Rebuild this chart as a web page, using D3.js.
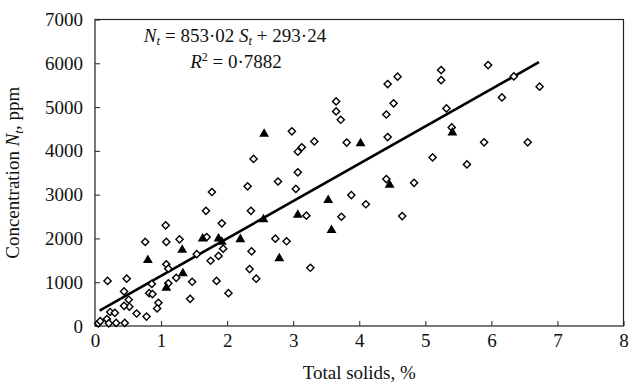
<!DOCTYPE html>
<html>
<head>
<meta charset="utf-8">
<script src="https://cdn.jsdelivr.net/npm/d3@7"></script>
<style>
  body { margin: 0; background: #fff; }
  svg text { font-family: "Liberation Serif", "Times New Roman", "DejaVu Serif", serif !important; fill: #111; }
</style>
</head>
<body>
<div id="chart"></div>
<script>
// total solids (%) and nitrogen (ppm), open diamonds
const solidsA = [0.05, 0.08, 0.18, 0.21, 0.23, 0.30, 0.32, 0.45, 0.19, 0.48, 0.44, 0.51, 0.52, 0.44, 0.63, 0.78,
  0.76, 0.86, 0.82, 0.87, 0.96, 0.94, 1.07, 1.08, 1.08, 1.11, 1.11, 1.23, 1.28, 1.44, 1.47, 1.54, 1.68, 1.69,
  1.77, 1.75, 1.84, 1.87, 1.92, 1.94, 2.02, 2.31, 2.34, 2.37, 2.36, 2.40, 2.44, 2.77, 2.73, 2.90, 2.98, 3.04,
  3.07, 3.07, 3.13, 3.20, 3.26, 3.32, 3.65, 3.65, 3.72, 3.73, 3.81, 3.88, 4.10, 4.41, 4.43, 4.41, 4.43, 4.52,
  4.58, 4.65, 4.83, 5.11, 5.24, 5.24, 5.32, 5.40, 5.63, 5.89, 5.95, 6.16, 6.34, 6.55, 6.73];
const nitrogenA = [60, 110, 160, 60, 320, 300, 70, 70, 1030, 1080, 790, 600, 440, 460, 285, 215,
  1920, 960, 750, 730, 530, 400, 2300, 1920, 1410, 1310, 975, 1100, 1980, 620, 1010, 1640, 2630, 2030,
  3060, 1490, 1030, 1600, 2345, 1765, 750, 3190, 1300, 1705, 2630, 3815, 1080, 3300, 1995, 1935, 4445, 3130,
  3510, 3980, 4080, 2520, 1330, 4215, 5130, 4900, 4710, 2495, 4190, 2990, 2780, 3355, 5525, 4830, 4315, 5085,
  5695, 2510, 3270, 3850, 5845, 5615, 4970, 4535, 3690, 4195, 5960, 5220, 5700, 4195, 5465];

// filled triangles
const solidsB = [0.80, 1.08, 1.32, 1.33, 1.63, 1.87, 1.92, 2.20, 2.56, 2.55, 2.79, 3.07, 3.53, 3.58, 4.02, 4.46, 5.41];
const nitrogenB = [1505, 870, 1735, 1200, 1995, 1995, 1920, 1980, 4385, 2435, 1545, 2535, 2875, 2190, 4170, 3220, 4415];

// regression N = 853.02 S + 293.24
const slope = 853.02;
const intercept = 293.24;
const fitRange = [0.07, 6.72];

const xTicks = [0, 1, 2, 3, 4, 5, 6, 7, 8];
const yTicks = [0, 1000, 2000, 3000, 4000, 5000, 6000, 7000];

const W = 630, H = 384;
const margin = { top: 19.5, right: 6.5, bottom: 58, left: 95 };
const iw = W - margin.left - margin.right;
const ih = H - margin.top - margin.bottom;
const serif = "'Liberation Serif', 'Times New Roman', 'DejaVu Serif', serif";

const svg = d3.select("#chart").append("svg")
  .attr("width", W)
  .attr("height", H)
  .attr("font-family", serif);

const g = svg.append("g")
  .attr("transform", `translate(${margin.left},${margin.top})`);

const x = d3.scaleLinear().domain([0, 8]).range([0, iw]);
const y = d3.scaleLinear().domain([0, 7000]).range([ih, 0]);

// axes, ticks pointing inward
const xAxis = g.append("g")
  .attr("transform", `translate(0,${ih})`)
  .call(d3.axisBottom(x).tickValues(xTicks).tickSize(-5).tickPadding(8).tickFormat(d3.format("d")));
const yAxis = g.append("g")
  .call(d3.axisLeft(y).tickValues(yTicks).tickSize(-5).tickPadding(12).tickFormat(d3.format("d")));

[xAxis, yAxis].forEach(a => {
  a.attr("font-family", serif);
  a.select(".domain").remove();
  a.selectAll(".tick line").attr("stroke", "#222");
  a.selectAll(".tick text").style("font-size", "19px").style("font-family", serif).attr("fill", "#111");
});

// frame
g.append("rect")
  .attr("width", iw)
  .attr("height", ih)
  .attr("fill", "none")
  .attr("stroke", "#222")
  .attr("stroke-width", 1.2);

// regression line
g.append("line")
  .attr("x1", x(fitRange[0]))
  .attr("y1", y(slope * fitRange[0] + intercept))
  .attr("x2", x(fitRange[1]))
  .attr("y2", y(slope * fitRange[1] + intercept))
  .attr("stroke", "#000")
  .attr("stroke-width", 2.6);

// diamonds
const diamond = d3.symbol().type(d3.symbolSquare).size(26);
g.append("g").selectAll("path")
  .data(solidsA.map((s, i) => ({ s, n: nitrogenA[i] })))
  .join("path")
  .attr("d", diamond)
  .attr("transform", d => `translate(${x(d.s)},${y(d.n)}) rotate(45)`)
  .attr("fill", "#fff")
  .attr("stroke", "#000")
  .attr("stroke-width", 1.4);

// triangles
const tri = d3.symbol().type(d3.symbolTriangle).size(42);
g.append("g").selectAll("path")
  .data(solidsB.map((s, i) => ({ s, n: nitrogenB[i] })))
  .join("path")
  .attr("d", tri)
  .attr("transform", d => `translate(${x(d.s)},${y(d.n)})`)
  .attr("fill", "#000");

// equation
const eq1 = svg.append("text")
  .attr("x", 235)
  .attr("y", 42)
  .attr("text-anchor", "middle")
  .style("font-size", "19px");
eq1.append("tspan").style("font-style", "italic").text("N");
eq1.append("tspan").style("font-style", "italic").style("font-size", "13px").attr("dy", 3).text("t");
eq1.append("tspan").attr("dy", -3).text(" = 853·02 ");
eq1.append("tspan").style("font-style", "italic").text("S");
eq1.append("tspan").style("font-style", "italic").style("font-size", "13px").attr("dy", 3).text("t");
eq1.append("tspan").attr("dy", -3).text(" + 293·24");

const eq2 = svg.append("text")
  .attr("x", 236)
  .attr("y", 68)
  .attr("text-anchor", "middle")
  .style("font-size", "19px");
eq2.append("tspan").style("font-style", "italic").text("R");
eq2.append("tspan").style("font-size", "12px").attr("dy", -7).text("2");
eq2.append("tspan").attr("dy", 7).text(" = 0·7882");

// axis titles
svg.append("text")
  .attr("x", margin.left + iw / 2)
  .attr("y", 379)
  .attr("text-anchor", "middle")
  .style("font-size", "19px")
  .text("Total solids, %");

const yt = svg.append("text")
  .attr("transform", `translate(19,${margin.top + ih / 2}) rotate(-90)`)
  .attr("text-anchor", "middle")
  .style("font-size", "19px");
yt.append("tspan").text("Concentration ");
yt.append("tspan").style("font-style", "italic").text("N");
yt.append("tspan").style("font-style", "italic").style("font-size", "13px").attr("dy", 4).text("t");
yt.append("tspan").attr("dy", -4).text(", ppm");
</script>
</body>
</html>
